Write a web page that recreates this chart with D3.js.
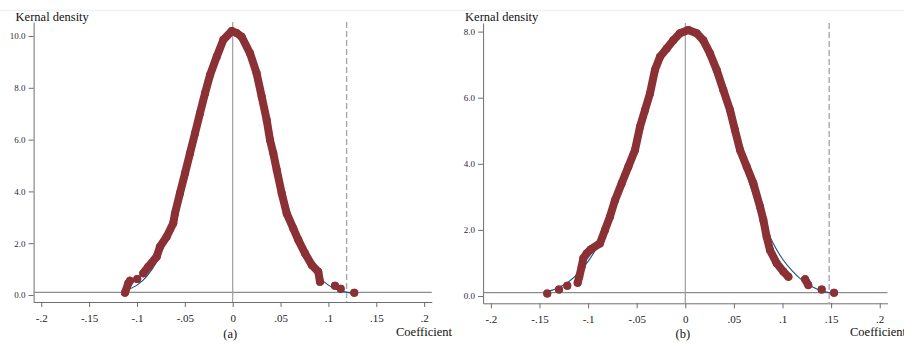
<!DOCTYPE html>
<html>
<head>
<meta charset="utf-8">
<script src="https://cdn.jsdelivr.net/npm/d3@7"></script>
<style>
  body { margin: 0; background: #fff; }
  svg { display: block; font-family: 'Liberation Serif', 'Times New Roman', serif; }
</style>
</head>
<body>
<div id="chart"></div>
<script>
// tick values / labels
const coefTicks = [-0.2, -0.15, -0.1, -0.05, 0, 0.05, 0.1, 0.15, 0.2];
const coefLabels = ['-.2', '-.15', '-.1', '-.05', '0', '.05', '.1', '.15', '.2'];
const densTicksA = [0, 2, 4, 6, 8, 10];
const densTicksB = [0, 2, 4, 6, 8];

// kernel density of placebo coefficients (null = gap between dot clusters)
const kdeA = [
  [-0.1125, 0.09], [-0.1091, 0.45], [-0.1073, 0.55], null,
  [-0.0997, 0.62], null,
  [-0.0934, 0.84], [-0.0882, 1.09], [-0.0794, 1.48], [-0.0760, 1.86], [-0.0690, 2.25],
  [-0.0621, 2.77], [-0.0603, 3.15], [-0.0551, 3.93], [-0.0498, 4.70], [-0.0446, 5.47],
  [-0.0394, 6.24], [-0.0342, 7.02], [-0.0289, 7.79], [-0.0237, 8.49], [-0.0167, 9.20],
  [-0.0098, 9.85], [-0.0010, 10.19], [0.0040, 10.12], [0.0094, 9.97], [0.0181, 9.33],
  [0.0250, 8.56], [0.0303, 7.66], [0.0355, 6.76], [0.0390, 5.98], [0.0424, 5.47],
  [0.0460, 4.83], [0.0512, 3.93], [0.0564, 3.15], [0.0633, 2.57], [0.0686, 2.12],
  [0.0755, 1.61], [0.0826, 1.16], [0.0894, 0.90], [0.0912, 0.51], null,
  [0.1069, 0.36], null,
  [0.1128, 0.24], null,
  [0.1270, 0.09]
];
const kdeB = [
  [-0.1420, 0.08], null,
  [-0.1299, 0.20], null,
  [-0.1214, 0.31], null,
  [-0.1107, 0.40], [-0.1091, 0.58], [-0.1066, 0.89], [-0.1049, 1.14], [-0.1014, 1.29],
  [-0.0973, 1.41], [-0.0878, 1.59], [-0.0826, 2.00], [-0.0775, 2.40], [-0.0723, 2.90],
  [-0.0654, 3.41], [-0.0586, 3.91], [-0.0517, 4.42], [-0.0466, 5.12], [-0.0414, 5.63],
  [-0.0363, 6.13], [-0.0312, 6.84], [-0.0260, 7.24], [-0.0191, 7.49], [-0.0123, 7.74],
  [-0.0055, 7.95], [0.0031, 8.05], [0.0117, 7.95], [0.0185, 7.74], [0.0254, 7.34],
  [0.0323, 6.84], [0.0391, 6.23], [0.0460, 5.63], [0.0511, 5.02], [0.0563, 4.42],
  [0.0632, 3.91], [0.0700, 3.41], [0.0769, 2.70], [0.0803, 2.30], [0.0837, 1.79],
  [0.0871, 1.39], [0.0940, 0.99], [0.1008, 0.74], [0.1060, 0.58], null,
  [0.1232, 0.51], [0.1265, 0.33], null,
  [0.1403, 0.20], null,
  [0.1530, 0.10]
];

// normal density reference curves
const normA = [
  [-0.112, 0.17], [-0.10, 0.38], [-0.09, 0.71], [-0.08, 1.25], [-0.07, 2.04], [-0.06, 3.13],
  [-0.05, 4.49], [-0.04, 6.04], [-0.03, 7.61], [-0.02, 8.97], [-0.01, 9.90], [0, 10.22],
  [0.01, 9.90], [0.02, 8.97], [0.03, 7.61], [0.04, 6.04], [0.05, 4.49], [0.06, 3.13],
  [0.07, 2.04], [0.08, 1.25], [0.09, 0.71], [0.10, 0.38], [0.11, 0.19], [0.12, 0.10],
  [0.127, 0.07]
];
const normB = [
  [-0.142, 0.13], [-0.13, 0.26], [-0.12, 0.43], [-0.11, 0.69], [-0.10, 1.05], [-0.09, 1.52],
  [-0.08, 2.19], [-0.07, 2.97], [-0.06, 3.87], [-0.05, 4.84], [-0.04, 5.81], [-0.03, 6.70],
  [-0.02, 7.41], [-0.01, 7.88], [0, 8.04], [0.01, 7.90], [0.02, 7.45], [0.03, 6.76],
  [0.04, 5.90], [0.05, 4.95], [0.06, 3.98], [0.07, 3.07], [0.08, 2.28], [0.09, 1.62],
  [0.10, 1.12], [0.11, 0.76], [0.12, 0.48], [0.13, 0.29], [0.14, 0.16], [0.153, 0.08]
];

const cutA = 0.119;   // dashed: true estimate
const cutB = 0.148;
const baseLevel = 0.1;

const width = 904;
const height = 344;

const svg = d3.select('#chart')
  .append('svg')
    .attr('width', width)
    .attr('height', height);

// faint frame line on top
svg.append('line')
  .attr('x1', 0).attr('x2', width)
  .attr('y1', 10.5).attr('y2', 10.5)
  .attr('stroke', '#edf1f4')
  .attr('stroke-width', 1.5);

function drawPanel(p) {
  const x = d3.scaleLinear().domain([-0.208, 0.208]).range([p.left, p.right]);
  const y = d3.scaleLinear().domain(p.yDomain).range([p.bottom, p.top]);
  const g = svg.append('g');

  // axes
  const xAxis = g.append('g')
    .attr('transform', 'translate(0,' + p.bottom + ')')
    .call(d3.axisBottom(x).tickValues(coefTicks)
      .tickFormat((d, i) => coefLabels[i]).tickSizeInner(5).tickSizeOuter(0).tickPadding(7));
  const yAxis = g.append('g')
    .attr('transform', 'translate(' + p.left + ',0)')
    .call(d3.axisLeft(y).tickValues(p.ticks)
      .tickFormat(d3.format('.1f')).tickSizeInner(5).tickSizeOuter(0).tickPadding(3));
  xAxis.select('.domain').attr('stroke', '#6e6e6e');
  yAxis.select('.domain').attr('stroke', '#6e6e6e');
  xAxis.selectAll('.tick line').attr('stroke', '#6e6e6e');
  yAxis.selectAll('.tick line').attr('stroke', '#6e6e6e');
  xAxis.selectAll('text')
    .attr('font-family', "'Liberation Serif', serif")
    .attr('font-size', 11).attr('fill', '#222');
  yAxis.selectAll('text')
    .attr('font-family', "'Liberation Serif', serif")
    .attr('font-size', 9).attr('fill', '#1f2a36');

  // reference lines
  g.append('line')
    .attr('x1', p.left).attr('x2', p.right)
    .attr('y1', y(baseLevel)).attr('y2', y(baseLevel))
    .attr('stroke', '#8c8c8c').attr('stroke-width', 1.2);
  g.append('line')
    .attr('x1', x(0)).attr('x2', x(0))
    .attr('y1', p.top).attr('y2', p.bottom)
    .attr('stroke', '#9e9e9e').attr('stroke-width', 1.2);
  g.append('line')
    .attr('x1', x(p.cut)).attr('x2', x(p.cut))
    .attr('y1', p.top).attr('y2', p.bottom)
    .attr('stroke', '#a8a8a8').attr('stroke-width', 1.4)
    .attr('stroke-dasharray', '6,3');

  // normal curve
  g.append('path')
    .datum(p.norm)
    .attr('fill', 'none')
    .attr('stroke', '#1a4f86')
    .attr('stroke-width', 1.1)
    .attr('d', d3.line()
      .curve(d3.curveMonotoneX)
      .x(d => x(d[0]))
      .y(d => y(d[1])));

  // dense scatter drawn as thick band + dots
  g.append('path')
    .datum(p.kde)
    .attr('fill', 'none')
    .attr('stroke', '#8b3034')
    .attr('stroke-width', 8)
    .attr('stroke-linejoin', 'round')
    .attr('stroke-linecap', 'round')
    .attr('d', d3.line()
      .defined(d => d != null)
      .x(d => x(d[0]))
      .y(d => y(d[1])));

  g.selectAll('circle.kde')
    .data(p.kde.filter(d => d != null))
    .enter()
    .append('circle')
    .attr('class', 'kde')
    .attr('r', 4)
    .attr('cx', d => x(d[0]))
    .attr('cy', d => y(d[1]))
    .style('fill', '#8b3034');

  // titles
  g.append('text')
    .attr('x', p.left - 18).attr('y', 20.5)
    .attr('font-size', 12.5).attr('fill', '#111')
    .text('Kernal density');
  g.append('text')
    .attr('x', p.coefX).attr('y', 335.5)
    .attr('font-size', 12.5).attr('fill', '#111')
    .text('Coefficient');
  g.append('text')
    .attr('x', x(0) - 2.5).attr('y', 338)
    .attr('text-anchor', 'middle')
    .attr('font-size', 12.5).attr('fill', '#111')
    .text(p.caption);
}

drawPanel({
  left: 33.6, right: 431.8, top: 22, bottom: 302,
  yDomain: [-0.27, 10.54], ticks: densTicksA,
  kde: kdeA, norm: normA, cut: cutA, caption: '(a)', coefX: 396
});

drawPanel({
  left: 483.1, right: 887.5, top: 23, bottom: 303.3,
  yDomain: [-0.22, 8.26], ticks: densTicksB,
  kde: kdeB, norm: normB, cut: cutB, caption: '(b)', coefX: 850
});
</script>
</body>
</html>
